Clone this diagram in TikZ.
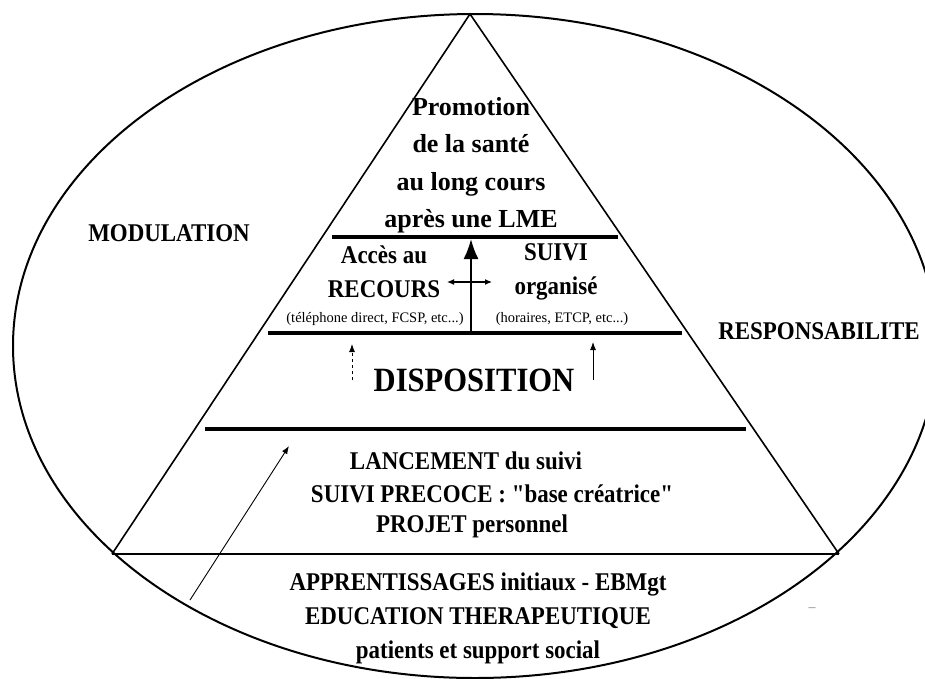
\documentclass[tikz,border=0pt]{standalone}
\usepackage{fontspec}
\setmainfont{Liberation Serif}
\newfontfamily\condfont[FakeStretch=0.9,Ligatures=TeXOff]{Liberation Serif}
\usetikzlibrary{arrows.meta}

\begin{document}
\begin{tikzpicture}[x=1pt,y=-1pt,
  big/.style={font=\bfseries\fontsize{26}{37.5}\selectfont,align=center},
  mid/.style={font=\condfont\bfseries\fontsize{25.5}{34}\selectfont,align=center},
  small/.style={font=\fontsize{14.5}{16}\selectfont},
  bar/.style={line width=3.2pt},
  thinarrow/.style={line width=0.9pt,-{Latex[length=8pt,width=6pt]}}]
  \useasboundingbox (0,0) rectangle (925,678);
  % ellipse and pyramid
  \coordinate (apex) at (470,14);
  \coordinate (bl) at (112,554);
  \coordinate (br) at (839,554);
  \draw[line width=2pt] (475,346) ellipse (462 and 332);
  \draw[line width=1.6pt] (bl) -- (apex) -- (br);
  \draw[line width=2pt] (bl) -- (br);
  \draw[bar] (332,237) -- (618,237);
  \draw[bar] (268,333) -- (682,333);
  \draw[bar] (205,429) -- (746,429);
  % labels
  \node[big] (promo) at (471,165) {Promotion\\de la santé\\au long cours\\après une LME};
  \node[mid] (modul) at (169,233) {MODULATION};
  \node[mid] (resp) at (819,331) {RESPONSABILITE};
  \node[mid] (acces) at (384,272) {Accès au\\RECOURS};
  \node[mid] (suivi) at (556,272) {SUIVI\\organisé};
  \node[small] (tel) at (375,319) {(téléphone direct, FCSP, etc...)};
  \node[small] (hor) at (562,319) {(horaires, ETCP, etc...)};
  \node[font=\condfont\bfseries\fontsize{34}{36}\selectfont] (dispo) at (474,380) {DISPOSITION};
  \node[mid] (lanc) at (466,461) {LANCEMENT du suivi};
  \node[mid] (prec) at (492,494) {SUIVI PRECOCE : "base créatrice"};
  \node[mid] (proj) at (472,526) {PROJET personnel};
  \node[mid] (appr) at (478,618) {APPRENTISSAGES initiaux - EBMgt\\EDUCATION THERAPEUTIQUE\\patients et support social};
  \node[font=\fontsize{14}{14}\selectfont,gray] (tiret) at (812,610) {–};
  % arrows
  \coordinate (up0) at (471,333);
  \coordinate (up1) at (471,239);
  \coordinate (hl) at (447,282);
  \coordinate (hr) at (492,282);
  \coordinate (da0) at (352,380);
  \coordinate (da1) at (352,344);
  \coordinate (sa0) at (593,380);
  \coordinate (sa1) at (593,342);
  \coordinate (la0) at (190,600);
  \coordinate (la1) at (289,446);
  \draw[line width=2pt,-{Latex[length=20pt,width=15pt]}] (up0) -- (up1);
  \draw[line width=1.2pt,{Latex[length=7pt,width=6pt]}-{Latex[length=7pt,width=6pt]}] (hl) -- (hr);
  \draw[thinarrow,dashed] (da0) -- (da1);
  \draw[thinarrow] (sa0) -- (sa1);
  \draw[thinarrow] (la0) -- (la1);
\end{tikzpicture}
\end{document}
